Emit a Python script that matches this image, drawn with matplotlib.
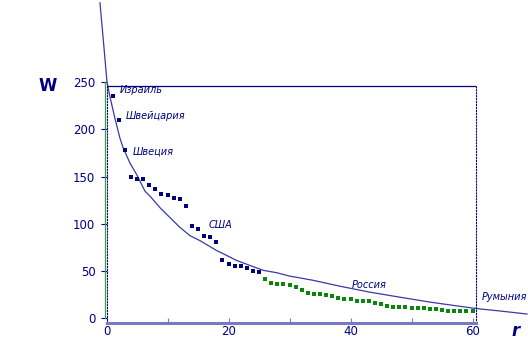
import numpy as np
import matplotlib
matplotlib.use('Agg')
import matplotlib.pyplot as plt
from matplotlib.ticker import MultipleLocator

# rank and value of each country
ranks_blue = list(range(1, 26))
w_blue = [235, 210, 178, 150, 147, 147, 141, 137, 131, 130, 127, 126, 119,
          98, 94, 87, 86, 81, 62, 57, 55, 55, 53, 50, 49]
ranks_green = list(range(26, 61))
w_green = [42, 37, 36, 36, 35, 33, 30, 26.5, 25.5, 25.5, 24.4, 23.4, 21.3,
           20.2, 20.2, 18.2, 18.2, 18.2, 16, 15, 12.9, 11.8, 11.8, 11.8, 11.3,
           10.8, 10.8, 9.8, 9.8, 8.7, 8.2, 8.2, 8.2, 8.2, 7.7]

# fitted curve
curve_r = [-1.07, -0.49, 0.08, 0.57, 1.39, 2.21, 2.75, 3.85, 4.95, 6.31, 7.13,
           8.77, 10.41, 12.05, 13.69, 15.33, 18.07, 19.16, 21.35, 23.52, 25.7,
           27.9, 29.97, 33.85, 38.28, 43.2, 48.11, 53.03, 57.13, 60.57, 64.51,
           68.93]
curve_w = [333.8, 292, 250, 234.2, 211.4, 190.4, 180, 164.2, 152, 134.5, 129.3,
           117, 106.5, 96.1, 87.4, 82.1, 71.6, 68.2, 61.1, 55.9, 50.7, 48.2,
           44.7, 40.2, 33.9, 27.6, 22.3, 17.1, 13.4, 10.3, 7.7, 4.5]

names = ['Израиль', 'Швейцария', 'Швеция', 'США', 'Россия', 'Румыния']
name_r = [2.2, 3.2, 4.35, 16.8, 40.25, 61.5]
name_w = [241.5, 214.2, 176.5, 98.9, 34.9, 22.3]

navy = '#000080'
fig = plt.figure(figsize=(5.28, 3.6), dpi=100)
ax = fig.add_axes([106.5/528, 37/360, 369.5/528, 241/360])

ax.plot(curve_r, curve_w, color='#3a3aa8', lw=0.9, clip_on=False, zorder=2)
ax.plot(ranks_blue, w_blue, 's', color=navy, ms=3, mew=0, zorder=3)
ax.plot(ranks_green, w_green, 's', color='#0a860a', ms=3, mew=0, zorder=3)

for n, x, y in zip(names, name_r, name_w):
    ax.text(x, y, n, fontsize=7, style='italic', color=navy,
            ha='left', va='center', clip_on=False)

ax.set_xlim(0, 60.57)
ax.set_ylim(-5, 250)

# frame pieces
ax.spines['top'].set_visible(False)
ax.spines['right'].set_color(navy)
ax.spines['right'].set_linestyle(':')
ax.spines['right'].set_bounds(-5, 245.8)
ax.spines['left'].set_color(navy)
ax.spines['left'].set_linestyle(':')
ax.spines['left'].set_bounds(-5, 245.8)
ax.spines['bottom'].set_color('#7878c4')
ax.spines['bottom'].set_linewidth(2.2)
ax.axhline(245.8, color=navy, lw=0.9)
ax.axvline(-0.3, ymin=0.02, ymax=1.0, color='#3aa03a', lw=0.9, clip_on=False)

ax.yaxis.set_major_locator(MultipleLocator(50))
ax.xaxis.set_major_locator(MultipleLocator(20))
ax.xaxis.set_minor_locator(MultipleLocator(10))
ax.tick_params(axis='y', direction='out', length=4, width=0.8, color=navy,
               labelcolor=navy, labelsize=8.5, pad=4)
ax.tick_params(axis='x', which='both', direction='in', length=3.5, width=0.8,
               color='#7878c4', labelcolor=navy, labelsize=8.5, pad=1.5)
ax.tick_params(axis='x', which='minor', labelbottom=False)

fig.text(47.5/528, 1 - 86/360, 'W', fontsize=12, fontweight='bold', color=navy,
         ha='center', va='center')
fig.text(516/528, 1 - 331/360, 'r', fontsize=12, fontweight='bold',
         style='italic', color=navy, ha='center', va='center')

plt.savefig('out.png', dpi=100)
